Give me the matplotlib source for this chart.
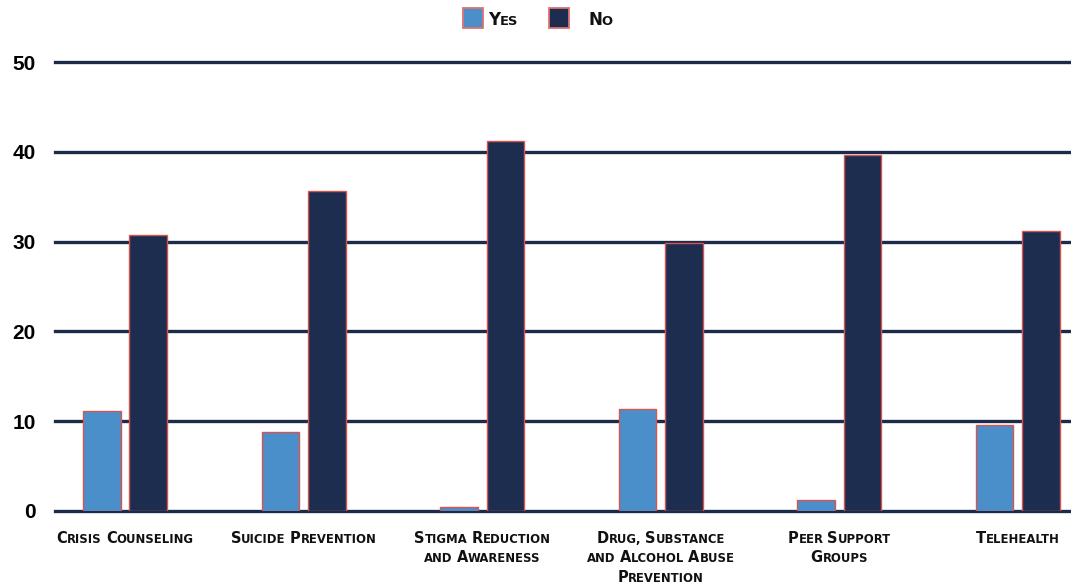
import matplotlib
matplotlib.use('Agg')
import matplotlib.pyplot as plt
from matplotlib.transforms import IdentityTransform
from matplotlib.patches import Rectangle
import numpy as np

# data
categories = ['Crisis Counseling', 'Suicide Prevention', 'Stigma Reduction\nand Awareness',
              'Drug, Substance\nand Alcohol Abuse\nPrevention', 'Peer Support\nGroups', 'Telehealth']
yes_vals = [11.1, 8.8, 0.5, 11.4, 1.2, 9.6]
no_vals = [30.7, 35.6, 41.2, 29.8, 39.6, 31.2]
yticks = [0, 10, 20, 30, 40, 50]
series_names = ['Yes', 'No']

YES_C = '#4a8fca'
NO_C = '#1d2d4f'
EDGE_C = '#d9534f'
GRID_C = '#1d2b4b'
LABEL_FONT = 'DejaVu Sans'

fig = plt.figure(figsize=(10.71, 5.85), dpi=100)
ax = fig.add_axes([55 / 1071, 74 / 585, 1 - 55 / 1071, 449 / 585])

x = np.arange(len(categories))
w = 0.21
off = 0.13
ax.bar(x - off, yes_vals, w, color=YES_C, edgecolor=EDGE_C, linewidth=1.0, zorder=3)
ax.bar(x + off, no_vals, w, color=NO_C, edgecolor=EDGE_C, linewidth=1.0, zorder=3)

# grid lines (drawn by hand so the top one is not clipped)
for t in yticks:
    ax.axhline(t, color=GRID_C, lw=2.4, zorder=1, clip_on=False)

ax.set_xlim(-0.392, 5.297)
ax.set_ylim(0, 50)
ax.set_yticks(yticks)
ax.set_yticklabels([str(t) for t in yticks], fontsize=15, fontweight='bold', family='Liberation Sans')
ax.set_xticks([])
ax.tick_params(axis='y', length=0, pad=14)
for s in ax.spines.values():
    s.set_visible(False)

renderer = fig.canvas.get_renderer()


def text_w(s, size):
    t = fig.text(0, 0, s, fontsize=size, fontweight='bold', family=LABEL_FONT)
    wd = t.get_window_extent(renderer).width
    t.remove()
    return wd


def draw_smallcaps(xp, yp, line, big, small, ha='center'):
    # fake small caps: capitals at big size, the rest upper-cased at small size
    gap = 0.0
    space = small * 100 / 72 * 0.36
    items = []
    total = 0
    for wi, word in enumerate(line.split(' ')):
        if wi:
            total += space
        runs = []
        for ch in word:
            sz = big if (ch.isupper() or ch.isdigit()) else small
            if runs and runs[-1][1] == sz:
                runs[-1][0] += ch.upper()
            else:
                runs.append([ch.upper(), sz])
        for ri, (txt, sz) in enumerate(runs):
            if ri:
                total += gap
            items.append((txt, sz, total))
            total += text_w(txt, sz)
    x0 = xp - total / 2 if ha == 'center' else xp
    for txt, sz, o in items:
        fig.text(x0 + o, yp, txt, fontsize=sz, fontweight='bold', family=LABEL_FONT,
                 color='#111111', transform=IdentityTransform(), va='baseline')


# category labels under the groups
for i, cat in enumerate(categories):
    xc = ax.transData.transform((i, 0))[0]
    for j, line in enumerate(cat.split('\n')):
        draw_smallcaps(xc, 42 - j * 19.5, line, 10.5, 8.4)

# legend at the top
leg_x = [463, 549]
txt_x = [488, 588]
for name, col, lx, tx in zip(series_names, [YES_C, NO_C], leg_x, txt_x):
    fig.patches.append(Rectangle((lx, 557), 20, 20, facecolor=col, edgecolor='#e07070',
                                 linewidth=1.3, transform=IdentityTransform(), figure=fig))
    draw_smallcaps(tx, 560, name, 12, 9.4, ha='left')

fig.savefig('out.png', dpi=100)
